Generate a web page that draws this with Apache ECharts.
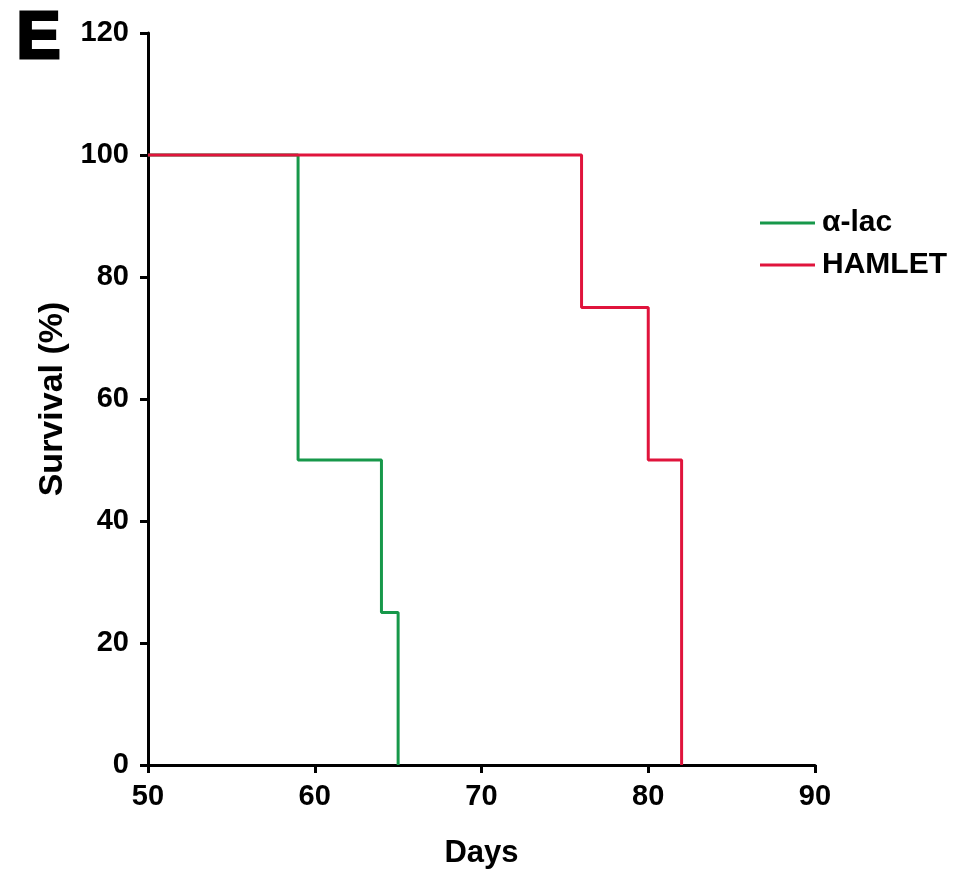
<!DOCTYPE html>
<html>
<head>
<meta charset="utf-8">
<script src="https://cdn.jsdelivr.net/npm/echarts@6/dist/echarts.min.js"></script>
<style>
  html, body { margin: 0; padding: 0; background: #fff; }
  #chart { width: 965px; height: 870px; }
</style>
</head>
<body>
<div id="chart"></div>
<script>
// survival steps, days vs percent
var alacDays = [50, 59, 64, 65];
var alacSurv = [100, 50, 25, 0];
var hamletDays = [50, 76, 80, 82];
var hamletSurv = [100, 75, 50, 0];

var xTicks = [50, 60, 70, 80, 90];
var yTicks = [0, 20, 40, 60, 80, 100, 120];

function pairs(xs, ys) {
    var out = [];
    for (var i = 0; i < xs.length; i++) out.push([xs[i], ys[i]]);
    return out;
}

var myChart = echarts.init(document.getElementById('chart'));
var fontFam = 'Liberation Sans, Arial, sans-serif';

myChart.setOption({
    animation: false,
    grid: { left: 148, right: 150, top: 33, bottom: 105, outerBoundsMode: 'none', containLabel: false },
    graphic: [{
        type: 'text', left: 15, top: 5,
        style: {
            text: 'E', fontSize: 66, fontWeight: 'bold', fontFamily: fontFam,
            fill: '#000', stroke: '#000', lineWidth: 3
        }
    }],
    legend: {
        orient: 'vertical',
        left: 755, top: 203,
        itemGap: 12,
        itemWidth: 55, itemHeight: 3,
        icon: 'rect',
        textStyle: { fontSize: 30, fontWeight: 'bold', fontFamily: fontFam, color: '#000', padding: [0, 0, 0, 2] },
        data: ['α-lac', 'HAMLET']
    },
    xAxis: {
        type: 'value',
        min: xTicks[0], max: xTicks[xTicks.length - 1], interval: 10,
        name: 'Days', nameLocation: 'middle', nameGap: 73,
        nameTextStyle: { fontSize: 31, fontWeight: 'bold', fontFamily: fontFam, color: '#000' },
        axisLine: { lineStyle: { color: '#000', width: 3 } },
        axisTick: { length: 8, lineStyle: { color: '#000', width: 3 } },
        axisLabel: { fontSize: 29, fontWeight: 'bold', fontFamily: fontFam, color: '#000', margin: 17 },
        splitLine: { show: false }
    },
    yAxis: {
        type: 'value',
        min: yTicks[0], max: yTicks[yTicks.length - 1], interval: 20,
        name: 'Survival (%)', nameLocation: 'middle', nameGap: 78, nameRotate: 90,
        nameTextStyle: { fontSize: 34, fontWeight: 'bold', fontFamily: fontFam, color: '#000' },
        axisLine: { show: true, lineStyle: { color: '#000', width: 3 } },
        axisTick: { show: true, length: 8, lineStyle: { color: '#000', width: 3 } },
        axisLabel: { fontSize: 29, fontWeight: 'bold', fontFamily: fontFam, color: '#000', margin: 19 },
        splitLine: { show: false }
    },
    series: [{
        name: 'α-lac',
        type: 'line',
        step: 'end',
        symbol: 'none',
        color: '#17984a',
        lineStyle: { width: 3, color: '#17984a' },
        z: 2,
        data: pairs(alacDays, alacSurv)
    }, {
        name: 'HAMLET',
        type: 'line',
        step: 'end',
        symbol: 'none',
        color: '#e0143c',
        lineStyle: { width: 3, color: '#e0143c' },
        z: 3,
        data: pairs(hamletDays, hamletSurv)
    }]
});
</script>
</body>
</html>
